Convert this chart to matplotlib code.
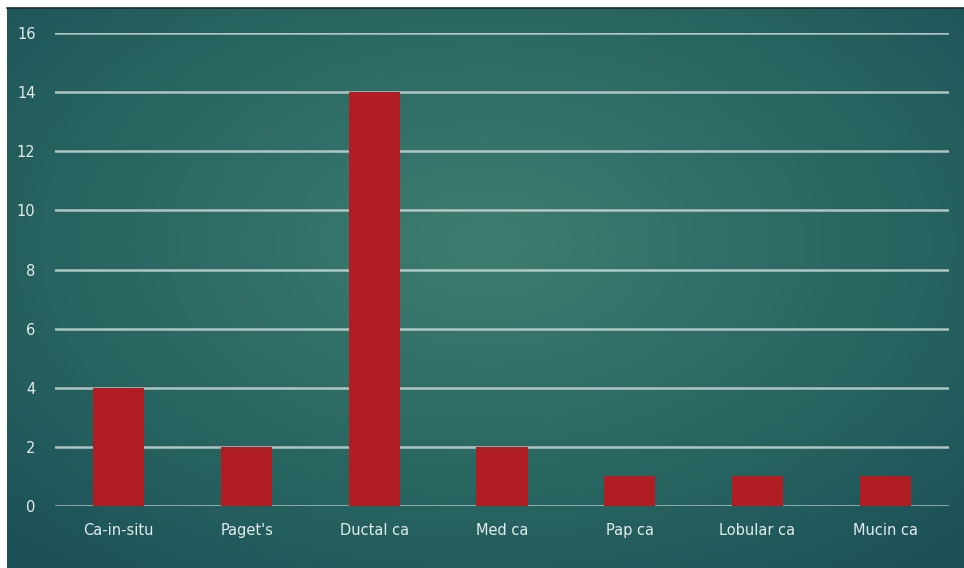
import numpy as np
import matplotlib.pyplot as plt
from matplotlib.colors import LinearSegmentedColormap

categories = ['Ca-in-situ', "Paget's", 'Ductal ca', 'Med ca', 'Pap ca', 'Lobular ca', 'Mucin ca']
counts = [4, 2, 14, 2, 1, 1, 1]
y_ticks = [0, 2, 4, 6, 8, 10, 12, 14, 16]

W, H = 964, 568
fig = plt.figure(figsize=(W / 100, H / 100), dpi=100)
fig.patch.set_facecolor('white')

# chalkboard style radial gradient panel
bg = fig.add_axes([7 / W, 0, 957 / W, 560 / H])
gx, gy = np.meshgrid(np.linspace(0, 1, 400), np.linspace(0, 1, 240))
d = np.sqrt(((gx - 0.5) / 0.7) ** 2 + ((gy - 0.42) / 0.75) ** 2)
d = np.clip(d, 0, 1)
cmap = LinearSegmentedColormap.from_list('board', ['#3e7e70', '#317068', '#26625f', '#1c5158'])
bg.imshow(d, cmap=cmap, aspect='auto', extent=[0, 1, 1, 0], interpolation='bilinear')
bg.set_axis_off()
fig.add_artist(plt.Line2D([7 / W, 1], [560 / H, 560 / H], color='#1a2e30', lw=1.2))

ax = fig.add_axes([55 / W, (H - 506) / H, 894 / W, 473 / H])
ax.patch.set_alpha(0)
x = np.arange(len(categories))
for t in y_ticks:
    ax.axhline(t, color='#c9d6d4', lw=1.8, alpha=0.85, zorder=1)
ax.bar(x, counts, width=0.4, color='#b01e24', zorder=2)
ax.set_xlim(-0.5, len(categories) - 0.5)
ax.set_ylim(0, 16)
ax.set_yticks(y_ticks)
ax.set_xticks(x)
ax.set_xticklabels(categories)
for s in ax.spines.values():
    s.set_visible(False)
ax.tick_params(length=0, colors='#e3ecec', labelsize=10.5)
ax.tick_params(axis='y', pad=14)
ax.tick_params(axis='x', pad=12)
for lbl in ax.get_xticklabels() + ax.get_yticklabels():
    lbl.set_fontfamily('DejaVu Sans')

fig.savefig('out.png', dpi=100)
